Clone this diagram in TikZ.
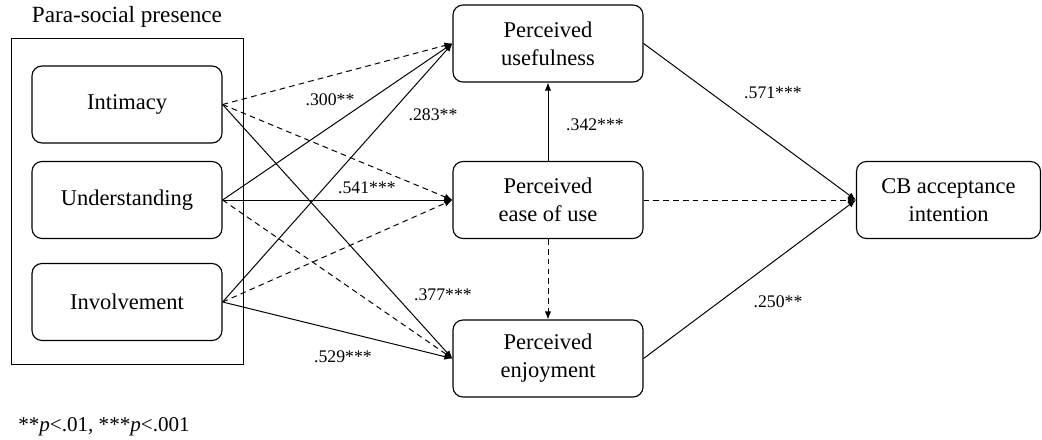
\documentclass[tikz,border=0pt]{standalone}
\usepackage{fontspec}
\setmainfont{Liberation Serif}
\usetikzlibrary{arrows.meta}
\tikzset{
  construct/.style={draw, line width=0.8pt, rounded corners=0.25cm,
    minimum width=4.75cm, minimum height=1.925cm, align=center,
    inner sep=0pt, font=\fontsize{16}{20}\selectfont},
  sig/.style={line width=0.7pt, -{Latex[length=2mm,width=1.6mm]}},
  nonsig/.style={sig, dash pattern=on 4pt off 3pt},
  coef/.style={inner sep=0pt, font=\fontsize{12.6}{15}\selectfont}
}
\begin{document}
\begin{tikzpicture}[x=0.025cm, y=-0.025cm]
  \useasboundingbox (0,0) rectangle (1042,440);
  % para-social presence block:
  \node[draw, line width=0.6pt, minimum width=5.8cm, minimum height=8.15cm] (presence) at (127,201) {};
  \node[inner sep=0pt, font=\fontsize{16.5}{20}\selectfont] (presencetitle) at (127,17) {Para-social presence};
  \node[construct] (intimacy) at (127,104.5) {Intimacy};
  \node[construct] (understanding) at (127,200) {Understanding};
  \node[construct] (involvement) at (127,302) {Involvement};
  % beliefs and outcome:
  \node[construct] (useful) at (548,43.5) {Perceived\\usefulness};
  \node[construct] (ease) at (548,200) {Perceived\\ease of use};
  \node[construct] (enjoy) at (548,358.5) {Perceived\\enjoyment};
  \node[construct, minimum width=4.6cm] (intention) at (948.5,200) {CB acceptance\\intention};
  % paths from para-social presence:
  \draw[nonsig] (intimacy.east) -- (useful.west);
  \draw[nonsig] (intimacy.east) -- (ease.west);
  \draw[sig] (intimacy.east) -- (enjoy.west);
  \draw[sig] (understanding.east) -- (useful.west);
  \draw[sig] (understanding.east) -- (ease.west);
  \draw[nonsig] (understanding.east) -- (enjoy.west);
  \draw[sig] (involvement.east) -- (useful.west);
  \draw[nonsig] (involvement.east) -- (ease.west);
  \draw[sig] (involvement.east) -- (enjoy.west);
  % paths between beliefs and to intention:
  \draw[sig] (ease.north) -- (useful.south);
  \draw[nonsig] (ease.south) -- (enjoy.north);
  \draw[sig] (useful.east) -- (intention.west);
  \draw[nonsig] (ease.east) -- (intention.west);
  \draw[sig] (enjoy.east) -- (intention.west);
  % path coefficients:
  \node[coef] (coefundus) at (330,100) {.300**};
  \node[coef] (coefinvus) at (433,115) {.283**};
  \node[coef] (coefundease) at (367,188) {.541***};
  \node[coef] (coefintenj) at (443,295) {.377***};
  \node[coef] (coefinvenj) at (343,357) {.529***};
  \node[coef] (coefeaseus) at (595,125) {.342***};
  \node[coef] (coefusint) at (773,93) {.571***};
  \node[coef] (coefenjint) at (778,302) {.250**};
  % significance note:
  \node[inner sep=0pt, anchor=west, font=\fontsize{15}{18}\selectfont] (note) at (18,427) {**\textit{p}<.01, ***\textit{p}<.001};
\end{tikzpicture}
\end{document}
